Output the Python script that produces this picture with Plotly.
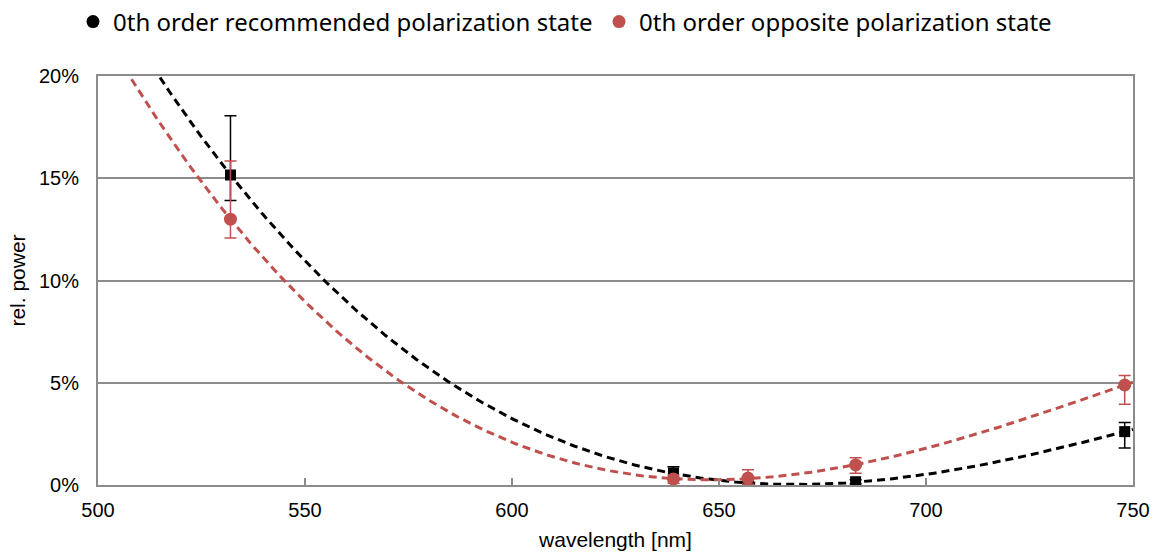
import numpy as np
import plotly.graph_objects as go

# Data (wavelength in nm, relative power in %)
wavelength = [532, 639, 657, 683, 748]

rec_power = [15.16, 0.59, 0.05, 0.16, 2.61]
rec_err_plus = [2.9, 0.3, 0.1, 0.1, 0.45]
rec_err_minus = [1.25, 0.3, 0.05, 0.1, 0.8]

opp_power = [13.0, 0.29, 0.34, 0.98, 4.89]
opp_err_plus = [2.84, 0.2, 0.4, 0.35, 0.46]
opp_err_minus = [0.92, 0.2, 0.3, 0.4, 0.94]

x_ticks = [500, 550, 600, 650, 700, 750]
y_ticks = [0, 5, 10, 15, 20]

BLACK = "#000000"
RED = "#c0504d"
GRID = "#8c8c8c"

# Polynomial trendlines fitted to the data (like spreadsheet trendlines)
xfit = np.linspace(500, 750, 300)
rec_fit = np.polyval(np.polyfit(wavelength, rec_power, 3), xfit)
opp_fit = np.polyval(np.polyfit(wavelength, opp_power, 3), xfit)

fig = go.Figure()

fig.add_trace(go.Scatter(x=xfit, y=rec_fit, mode="lines", showlegend=False,
                         line=dict(color=BLACK, width=3, dash="8px,5px"), hoverinfo="skip"))
fig.add_trace(go.Scatter(x=xfit, y=opp_fit, mode="lines", showlegend=False,
                         line=dict(color=RED, width=3, dash="8px,5px"), hoverinfo="skip"))

fig.add_trace(go.Scatter(
    x=wavelength, y=rec_power, mode="markers", showlegend=False,
    marker=dict(symbol="square", size=11, color=BLACK),
    error_y=dict(type="data", array=rec_err_plus, arrayminus=rec_err_minus,
                 color=BLACK, thickness=1.5, width=6)))
fig.add_trace(go.Scatter(
    x=wavelength, y=opp_power, mode="markers", showlegend=False,
    marker=dict(symbol="circle", size=13, color=RED),
    error_y=dict(type="data", array=opp_err_plus, arrayminus=opp_err_minus,
                 color=RED, thickness=1.5, width=6)))

# legend entries
fig.add_trace(go.Scatter(x=[None], y=[None], mode="markers", legend="legend",
                         name="0th order recommended polarization state",
                         marker=dict(symbol="circle", size=13, color=BLACK)))
fig.add_trace(go.Scatter(x=[None], y=[None], mode="markers", legend="legend2",
                         name="0th order opposite polarization state",
                         marker=dict(symbol="circle", size=13, color=RED)))

legend_font = dict(family="Noto Sans", size=24, color="#000000")
fig.update_layout(
    width=1154, height=556,
    margin=dict(l=98, r=21, t=76, b=71, autoexpand=False),
    paper_bgcolor="white", plot_bgcolor="white",
    font=dict(family="Liberation Sans, Arial", size=18, color="#000000"),
    legend=dict(orientation="h", xref="container", x=73 / 1154, xanchor="left",
                yref="container", y=1 - 22 / 556, yanchor="middle",
                font=legend_font, itemwidth=30, bgcolor="rgba(0,0,0,0)"),
    legend2=dict(orientation="h", xref="container", x=599 / 1154, xanchor="left",
                 yref="container", y=1 - 22 / 556, yanchor="middle",
                 font=legend_font, itemwidth=30, bgcolor="rgba(0,0,0,0)"),
    showlegend=True,
)

fig.update_xaxes(
    range=[500, 750], tickvals=x_ticks, ticktext=[str(v) for v in x_ticks],
    showgrid=False, showline=True, linecolor=GRID, linewidth=2, mirror=True,
    ticks="inside", ticklen=7, tickwidth=1.5, tickcolor=GRID,
    ticklabelstandoff=6,
    title=dict(text="wavelength [nm]", font=dict(size=21), standoff=12),
    tickfont=dict(size=20), zeroline=False,
)
fig.update_yaxes(
    range=[0, 20], tickvals=y_ticks, ticktext=[f"{v}%" for v in y_ticks],
    showgrid=True, gridcolor=GRID, gridwidth=2,
    showline=True, linecolor=GRID, linewidth=2, mirror=True,
    ticks="", ticklabelstandoff=13,
    title=dict(text="rel. power", font=dict(size=21), standoff=8),
    tickfont=dict(size=20), zeroline=False,
)

fig.write_html(
    "out.html",
    config={"displayModeBar": False},
    post_script="document.body.style.margin='0';document.body.style.overflow='hidden';",
)
